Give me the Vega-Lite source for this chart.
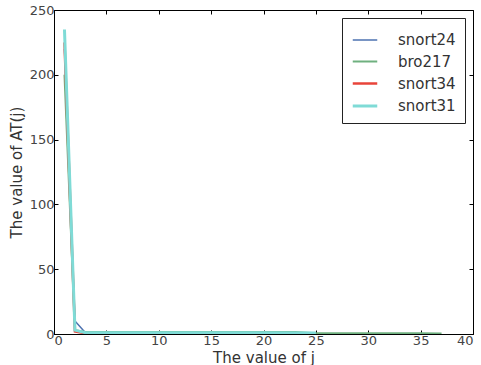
{
  "$schema": "https://vega.github.io/schema/vega-lite/v6.json",
  "width": 419,
  "height": 324,
  "autosize": "none",
  "padding": {"left": 54, "top": 10, "right": 8, "bottom": 31},
  "background": "white",
  "config": {
    "view": {"stroke": "black", "strokeWidth": 1},
    "font": "DejaVu Sans",
    "axis": {"grid": false, "domainColor": "black", "tickColor": "black", "labelColor": "#444", "titleColor": "#333", "labelFontSize": 13, "titleFontSize": 15, "titleFontWeight": "normal", "tickSize": -4, "labelPadding": 4},
    "legend": {"title": null, "orient": "top-right", "offset": 8, "strokeColor": "#222", "fillColor": "white", "padding": 9, "symbolType": "stroke", "symbolSize": 600, "labelFontSize": 15, "labelColor": "#333", "rowPadding": 0, "labelOffset": 19}
  },
  "data": {"values": [
    {"series": "snort24", "j": 1, "v": 220}, {"series": "snort24", "j": 2, "v": 10}, {"series": "snort24", "j": 3, "v": 1}, {"series": "snort24", "j": 5, "v": 1}, {"series": "snort24", "j": 10, "v": 1}, {"series": "snort24", "j": 15, "v": 0.5}, {"series": "snort24", "j": 20, "v": 0.5},
    {"series": "bro217", "j": 1, "v": 200}, {"series": "bro217", "j": 2, "v": 3}, {"series": "bro217", "j": 3, "v": 1.5}, {"series": "bro217", "j": 10, "v": 1.5}, {"series": "bro217", "j": 20, "v": 1.5}, {"series": "bro217", "j": 23, "v": 1.5}, {"series": "bro217", "j": 25, "v": 0.6}, {"series": "bro217", "j": 30, "v": 0.5}, {"series": "bro217", "j": 35, "v": 0.5}, {"series": "bro217", "j": 37, "v": 0.3},
    {"series": "snort34", "j": 1, "v": 225}, {"series": "snort34", "j": 2, "v": 2}, {"series": "snort34", "j": 3, "v": 0.5}, {"series": "snort34", "j": 10, "v": 0.5}, {"series": "snort34", "j": 15, "v": 0.5},
    {"series": "snort31", "j": 1, "v": 235}, {"series": "snort31", "j": 2, "v": 3}, {"series": "snort31", "j": 3, "v": 1}, {"series": "snort31", "j": 10, "v": 1}, {"series": "snort31", "j": 20, "v": 1}, {"series": "snort31", "j": 25, "v": 0.8}
  ]},
  "resolve": {"axis": {"x": "independent", "y": "independent"}},
  "layer": [
    {
      "mark": {"type": "line", "clip": true},
      "encoding": {
        "x": {"field": "j", "type": "quantitative", "scale": {"domain": [0, 40], "nice": false}, "axis": {"values": [0,5,10,15,20,25,30,35,40], "title": "The value of j", "titlePadding": 3}},
        "y": {"field": "v", "type": "quantitative", "scale": {"domain": [0, 250], "nice": false}, "axis": {"values": [0,50,100,150,200,250], "title": "The value of AT(j)", "titlePadding": 5}},
        "color": {"field": "series", "type": "nominal", "sort": ["snort24", "bro217", "snort34", "snort31"],
          "scale": {"domain": ["snort24", "bro217", "snort34", "snort31"], "range": ["#4c72b0", "#6fb07f", "#e8443a", "#7fdbd6"]}},
        "strokeWidth": {"field": "series", "type": "nominal", "sort": ["snort24", "bro217", "snort34", "snort31"], "scale": {"domain": ["snort24", "bro217", "snort34", "snort31"], "range": [1.5, 3, 1.5, 3]}},
        "order": {"field": "j", "type": "quantitative"}
      }
    },
    {
      "mark": {"type": "point", "opacity": 0},
      "encoding": {
        "x": {"field": "j", "type": "quantitative", "scale": {"domain": [0, 40], "nice": false}, "axis": {"orient": "top", "values": [0,5,10,15,20,25,30,35,40], "labels": false, "title": null, "domain": false}},
        "y": {"field": "v", "type": "quantitative", "scale": {"domain": [0, 250], "nice": false}, "axis": {"orient": "right", "values": [0,50,100,150,200,250], "labels": false, "title": null, "domain": false}}
      }
    }
  ]
}
